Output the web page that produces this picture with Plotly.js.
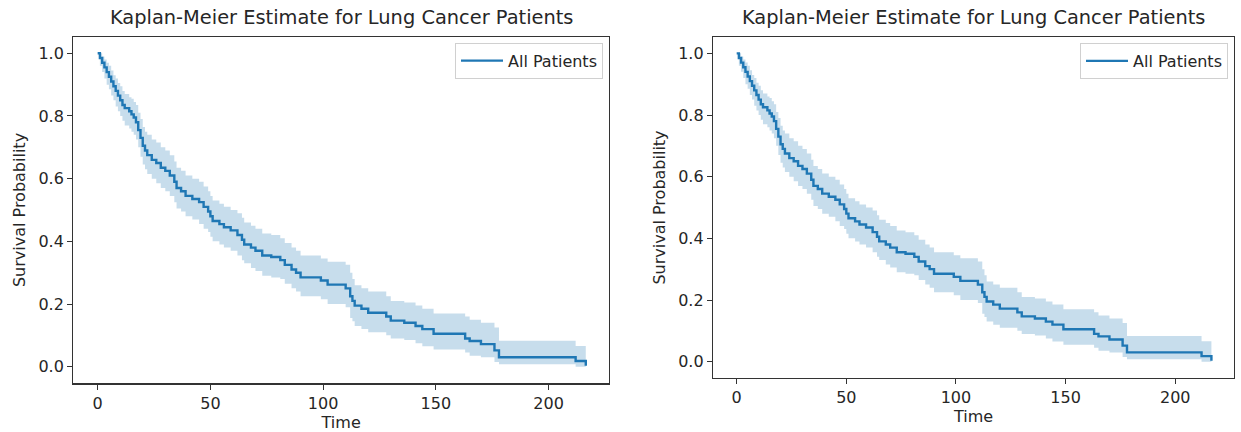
<!DOCTYPE html>
<html>
<head>
<meta charset="utf-8">
<script src="https://cdn.plot.ly/plotly-3.0.1.min.js"></script>
<style>html,body{margin:0;padding:0;background:#fff;}#chart{width:1241px;height:432px;}</style>
</head>
<body>
<div id="chart"></div>
<script>
// Kaplan-Meier step points
const times = [0,1,2,3,4,5,6,7,8,9,10,11,12,14,15,16,17,18,19,20,21,22,24,26,28,30,32,34,35,37,39,42,45,47,49,50,51,54,56,59,62,64,65,68,70,73,77,81,83,86,88,90,99,102,110,112,113,114,117,120,128,130,136,141,144,149,163,165,170,176,178,212,216.5];
const survival = [1.000,0.985,0.970,0.955,0.940,0.925,0.910,0.895,0.880,0.865,0.850,0.835,0.825,0.815,0.805,0.795,0.780,0.755,0.730,0.705,0.690,0.675,0.660,0.650,0.635,0.625,0.610,0.590,0.570,0.560,0.545,0.535,0.525,0.510,0.495,0.480,0.465,0.455,0.445,0.435,0.420,0.405,0.390,0.380,0.370,0.355,0.350,0.340,0.325,0.310,0.300,0.285,0.275,0.262,0.250,0.225,0.210,0.195,0.185,0.172,0.160,0.147,0.140,0.130,0.120,0.105,0.090,0.082,0.072,0.052,0.030,0.018,0.003];
const ciLower = [1.000,0.960,0.940,0.920,0.900,0.885,0.865,0.850,0.830,0.815,0.800,0.785,0.770,0.760,0.750,0.740,0.725,0.700,0.670,0.645,0.630,0.615,0.600,0.585,0.570,0.560,0.545,0.525,0.505,0.495,0.480,0.470,0.455,0.440,0.430,0.415,0.400,0.390,0.380,0.370,0.355,0.340,0.330,0.315,0.305,0.290,0.285,0.280,0.265,0.250,0.240,0.225,0.215,0.200,0.190,0.155,0.145,0.130,0.120,0.110,0.100,0.090,0.085,0.075,0.065,0.055,0.045,0.035,0.030,0.015,0.008,0.000,0.000];
const ciUpper = [1.000,1.000,0.990,0.980,0.970,0.960,0.945,0.930,0.920,0.905,0.895,0.880,0.870,0.860,0.855,0.845,0.835,0.810,0.790,0.765,0.750,0.740,0.725,0.715,0.700,0.690,0.675,0.655,0.635,0.625,0.610,0.600,0.590,0.575,0.560,0.545,0.530,0.520,0.510,0.500,0.490,0.475,0.460,0.450,0.440,0.425,0.420,0.410,0.395,0.380,0.370,0.355,0.345,0.335,0.325,0.300,0.280,0.260,0.250,0.240,0.225,0.210,0.205,0.195,0.185,0.170,0.160,0.150,0.140,0.125,0.083,0.066,0.060];

const seriesName = 'All Patients';
const chartTitle = 'Kaplan-Meier Estimate for Lung Cancer Patients';
const xLabel = 'Time';
const yLabel = 'Survival Probability';
const xTicks = [0,50,100,150,200];
const yTicks = [0,0.2,0.4,0.6,0.8,1.0];

const blue = '#1f77b4';
const band = 'rgba(31,119,180,0.25)';
const W = 1241, H = 432;
const fontFam = 'DejaVu Sans, sans-serif';
const txt = '#262626';
const tickSize = 16, titleSize = 19.4;

function traces(ax, ay, leg) {
  return [
    {x: times, y: ciUpper, xaxis: ax, yaxis: ay, mode: 'lines', line: {shape: 'hv', width: 0, color: band}, showlegend: false, hoverinfo: 'skip'},
    {x: times, y: ciLower, xaxis: ax, yaxis: ay, mode: 'lines', line: {shape: 'hv', width: 0, color: band}, fill: 'tonexty', fillcolor: band, showlegend: false, hoverinfo: 'skip'},
    {x: times, y: survival, xaxis: ax, yaxis: ay, mode: 'lines', name: seriesName, line: {shape: 'hv', width: 2.4, color: blue}, legend: leg}
  ];
}

// plot frames in pixels: [left, right, top, bottom]
const frames = [[73.3, 609, 36.7, 383.3], [713, 1234, 37, 378]];

function xaxis(f, standoff) {
  return {domain: [f[0]/W, f[1]/W], range: [-10.8, 226.8], tickvals: xTicks, ticks: 'outside', ticklen: 5, tickcolor: '#333', tickwidth: 1,
    showgrid: false, zeroline: false, showline: true, mirror: true, linecolor: '#333', linewidth: 1.2,
    tickfont: {family: fontFam, size: tickSize, color: txt},
    title: {text: xLabel, font: {family: fontFam, size: tickSize, color: txt}, standoff: standoff}};
}
function yaxis(f) {
  return {domain: [1 - f[3]/H, 1 - f[2]/H], range: [-0.053, 1.053], tickvals: yTicks, ticktext: yTicks.map(v => v.toFixed(1)),
    ticks: 'outside', ticklen: 5, tickcolor: '#333', tickwidth: 1,
    showgrid: false, zeroline: false, showline: true, mirror: true, linecolor: '#333', linewidth: 1.2,
    tickfont: {family: fontFam, size: tickSize, color: txt},
    title: {text: yLabel, font: {family: fontFam, size: tickSize, color: txt}, standoff: 8}};
}

const data = [].concat(traces('x', 'y', 'legend'), traces('x2', 'y2', 'legend2'));

function legendAt(f) {
  return {x: (f[1] - 6)/W, y: 1 - (f[2] + 6)/H, xanchor: 'right', yanchor: 'top', xref: 'paper', yref: 'paper',
    bgcolor: 'rgba(255,255,255,0.8)', bordercolor: '#d0d0d0', borderwidth: 1, itemwidth: 42,
    font: {family: fontFam, size: tickSize, color: txt}};
}

const layout = {
  width: W, height: H, margin: {l: 0, r: 0, t: 0, b: 0},
  paper_bgcolor: '#fff', plot_bgcolor: '#fff',
  xaxis: Object.assign(xaxis(frames[0], 8), {anchor: 'y'}), yaxis: Object.assign(yaxis(frames[0]), {anchor: 'x'}),
  xaxis2: Object.assign(xaxis(frames[1], 3), {anchor: 'y2'}), yaxis2: Object.assign(yaxis(frames[1]), {anchor: 'x2'}),
  legend: legendAt(frames[0]), legend2: legendAt(frames[1]),
  annotations: frames.map(f => ({text: chartTitle, xref: 'paper', yref: 'paper', x: (f[0] + f[1]) / 2 / W, y: 1 - (f[2] - 6)/H,
    xanchor: 'center', yanchor: 'bottom', showarrow: false, font: {family: fontFam, size: titleSize, color: txt}})),
  showlegend: true
};

Plotly.newPlot('chart', data, layout, {displayModeBar: false, staticPlot: true});
</script>
</body>
</html>
